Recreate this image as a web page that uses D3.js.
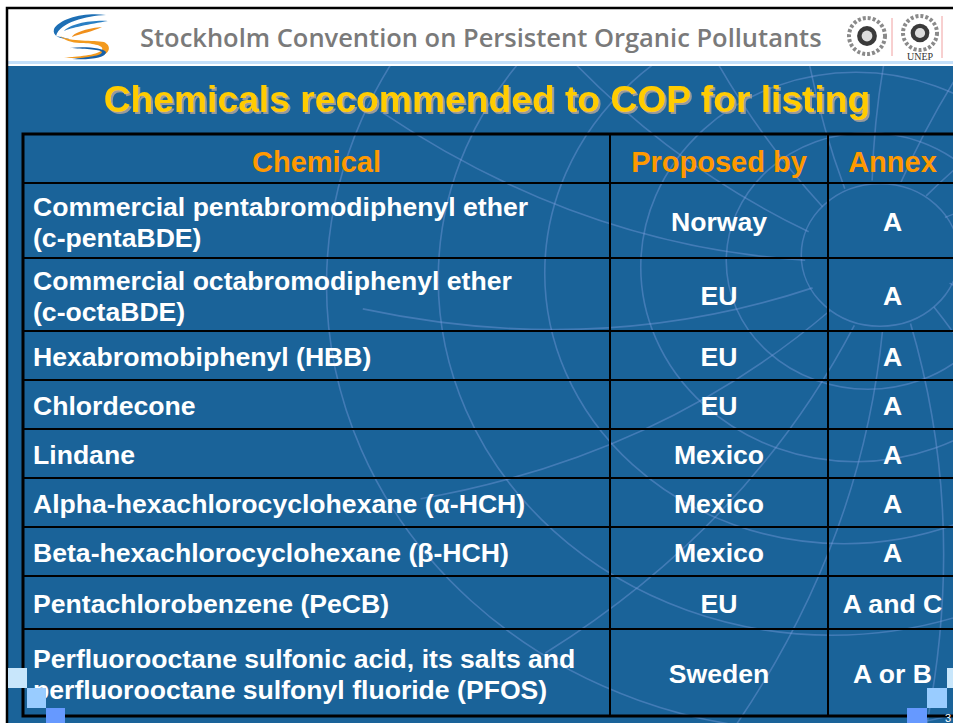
<!DOCTYPE html>
<html>
<head>
<meta charset="utf-8">
<script src="https://cdn.jsdelivr.net/npm/d3@7"></script>
<style>
  html, body { margin: 0; padding: 0; background: #fff; }
  svg { display: block; }
</style>
</head>
<body>
<svg id="slide" width="953" height="723"></svg>
<script>
// table content
const headers = ['Chemical', 'Proposed by', 'Annex'];
const chemicals = [
  ['Commercial pentabromodiphenyl ether', '(c-pentaBDE)'],
  ['Commercial octabromodiphenyl ether', '(c-octaBDE)'],
  ['Hexabromobiphenyl (HBB)'],
  ['Chlordecone'],
  ['Lindane'],
  ['Alpha-hexachlorocyclohexane (α-HCH)'],
  ['Beta-hexachlorocyclohexane (β-HCH)'],
  ['Pentachlorobenzene (PeCB)'],
  ['Perfluorooctane sulfonic acid, its salts and', 'perfluorooctane sulfonyl fluoride (PFOS)']
];
const proposedBy = ['Norway', 'EU', 'EU', 'EU', 'Mexico', 'Mexico', 'Mexico', 'EU', 'Sweden'];
const annex = ['A', 'A', 'A', 'A', 'A', 'A', 'A', 'A and C', 'A or B'];

const slideTitle = 'Chemicals recommended to COP for listing';
const bannerText = 'Stockholm Convention on Persistent Organic Pollutants';

// layout
const W = 953, H = 723;
const blue = '#1a6399';
const colEdges = [23, 610, 828, 957];
const rowEdges = [134, 183, 258, 331, 380, 429, 478, 527, 576, 629, 716];

const svg = d3.select('#slide');

// white banner + blue body
svg.append('rect').attr('x', 0).attr('y', 0).attr('width', W).attr('height', H).attr('fill', '#fff');
svg.append('rect').attr('x', 7).attr('y', 61).attr('width', W).attr('height', 3).attr('fill', '#c4e0fa');
svg.append('rect').attr('x', 7).attr('y', 66).attr('width', W).attr('height', H).attr('fill', blue);

// decorative globe lines
const defs = svg.append('defs');
defs.append('clipPath').attr('id', 'bodyClip')
  .append('rect').attr('x', 8).attr('y', 66).attr('width', W).attr('height', H);
const shadow = defs.append('filter').attr('id', 'shadow').attr('x', '-5%').attr('y', '-20%')
  .attr('width', '110%').attr('height', '150%');
shadow.append('feOffset').attr('in', 'SourceAlpha').attr('dx', 2).attr('dy', 2).attr('result', 'off');
shadow.append('feFlood').attr('flood-color', '#9a9a9a');
shadow.append('feComposite').attr('in2', 'off').attr('operator', 'in').attr('result', 'sh');
const merge = shadow.append('feMerge');
merge.append('feMergeNode').attr('in', 'sh');
merge.append('feMergeNode').attr('in', 'SourceGraphic');

const deco = svg.append('g').attr('clip-path', 'url(#bodyClip)')
  .attr('fill', 'none').attr('stroke', '#7f9fe0').attr('stroke-opacity', 0.4).attr('stroke-width', 1.6);
const cx = 880, cy = 255;
[75, 135, 205, 285, 375, 470].forEach((r, i) => {
  deco.append('ellipse').attr('cx', cx - i * 12).attr('cy', cy + i * 6)
    .attr('rx', r * 1.05).attr('ry', r * 0.95);
});
d3.range(0, 360, 22).forEach(a => {
  const rad = a * Math.PI / 180;
  const x1 = cx + 75 * Math.cos(rad), y1 = cy + 75 * Math.sin(rad);
  const x2 = cx + 520 * Math.cos(rad + 0.35), y2 = cy + 520 * Math.sin(rad + 0.35);
  const mx = cx + 300 * Math.cos(rad + 0.1), my = cy + 300 * Math.sin(rad + 0.1);
  deco.append('path').attr('d', `M${x1},${y1} Q${mx},${my} ${x2},${y2}`);
});

// outer slide frame
svg.append('path').attr('d', `M7,${H} V8 H${W}`).attr('fill', 'none').attr('stroke', '#000').attr('stroke-width', 2.5);

// Stockholm logo
const logo = svg.append('g').attr('transform', 'translate(50,12)');
logo.append('path').attr('d', 'M56,3 C36,0 10,6 4,17 C2,24 10,27 20,27 L6,24 C10,10 36,4 56,3 Z').attr('fill', '#1d6fb5');
logo.append('path').attr('d', 'M58,9 C40,8 20,12 14,19 C20,16 40,12 58,9 Z').attr('fill', '#2a7fc4');
logo.append('path').attr('d', 'M52,15 C40,16 24,20 22,25 C30,22 44,19 52,15 Z').attr('fill', '#f0901c');
logo.append('path').attr('d', 'M10,24 C20,30 44,28 54,30 C62,34 60,42 50,44 C40,47 26,46 14,46 C28,44 46,44 52,38 C55,33 40,31 30,31 C22,31 14,28 10,24 Z').attr('fill', '#f39a1e');
logo.append('path').attr('d', 'M20,36 C34,34 54,36 56,40 C56,46 40,48 22,47 C38,45 52,44 52,40 C50,37 32,37 20,36 Z').attr('fill', '#1760a8');

// UN emblems
[[867, 36, 18], [920, 33, 17]].forEach(([x, y, r]) => {
  svg.append('circle').attr('cx', x).attr('cy', y).attr('r', r).attr('fill', 'none')
    .attr('stroke', '#8a8a8a').attr('stroke-width', 4).attr('stroke-dasharray', '3 2');
  svg.append('circle').attr('cx', x).attr('cy', y).attr('r', r * 0.55).attr('fill', '#3a3a3a');
  svg.append('circle').attr('cx', x).attr('cy', y).attr('r', r * 0.3).attr('fill', '#ddd');
});
svg.append('text').attr('x', 920).attr('y', 60).attr('text-anchor', 'middle')
  .attr('font-family', 'Liberation Serif').attr('font-size', 10).attr('fill', '#333').text('UNEP');
svg.append('line').attr('x1', 892).attr('x2', 892).attr('y1', 18).attr('y2', 56).attr('stroke', '#f0a0a0');
svg.append('line').attr('x1', 942).attr('x2', 942).attr('y1', 16).attr('y2', 58).attr('stroke', '#f0a0a0');

// fit helper
function fitWidth(sel, target) {
  const w = sel.node().getComputedTextLength();
  const fs = parseFloat(sel.attr('font-size'));
  sel.attr('font-size', fs * target / w);
}

const banner = svg.append('text').attr('x', 140).attr('y', 47)
  .attr('font-family', 'Open Sans').attr('font-weight', 600).attr('font-size', 24)
  .attr('fill', '#7a7a7a').text(bannerText);
fitWidth(banner, 682);

// title with drop shadow
const title = svg.append('text').attr('x', 487).attr('y', 112).attr('text-anchor', 'middle')
  .attr('font-family', 'Liberation Sans').attr('font-weight', 'bold').attr('font-size', 37)
  .attr('fill', '#ffcc00').attr('filter', 'url(#shadow)').text(slideTitle);
fitWidth(title, 767);

// table
const table = svg.append('g');
const nRows = chemicals.length;
const colX = i => colEdges[i];
const colMid = i => (colEdges[i] + colEdges[i + 1]) / 2;
const rowMid = i => (rowEdges[i] + rowEdges[i + 1]) / 2;

table.selectAll('text.head').data(headers).join('text').attr('class', 'head')
  .attr('x', (d, i) => colMid(i)).attr('y', rowMid(0) + 3).attr('dy', '0.36em')
  .attr('text-anchor', 'middle')
  .attr('font-family', 'Liberation Sans').attr('font-weight', 'bold').attr('font-size', 29)
  .attr('fill', '#ff9900').text(d => d);

const body = table.append('g').attr('font-family', 'Liberation Sans').attr('font-weight', 'bold')
  .attr('font-size', 26.6).attr('fill', '#fff');
const lineGap = 31;

body.selectAll('text.chem').data(chemicals).join('text').attr('class', 'chem')
  .attr('x', colX(0) + 10)
  .attr('y', (d, i) => rowMid(i + 1))
  .each(function (d, i) {
    const el = d3.select(this);
    d.forEach((line, k) => {
      el.append('tspan').attr('x', colX(0) + 10)
        .attr('y', rowMid(i + 1) + 1 + (k - (d.length - 1) / 2) * lineGap)
        .attr('dy', '0.36em').text(line);
    });
  });

body.selectAll('text.prop').data(proposedBy).join('text').attr('class', 'prop')
  .attr('x', colMid(1)).attr('y', (d, i) => rowMid(i + 1) + 1).attr('dy', '0.36em')
  .attr('text-anchor', 'middle').text(d => d);

body.selectAll('text.annex').data(annex).join('text').attr('class', 'annex')
  .attr('x', colMid(2)).attr('y', (d, i) => rowMid(i + 1) + 1).attr('dy', '0.36em')
  .attr('text-anchor', 'middle').text(d => d);

// grid lines
const grid = table.append('g').attr('stroke', '#000');
rowEdges.slice(1, -1).forEach(y => {
  grid.append('line').attr('x1', colEdges[0]).attr('x2', W).attr('y1', y).attr('y2', y).attr('stroke-width', 2);
});
colEdges.slice(1, -1).forEach(x => {
  grid.append('line').attr('x1', x).attr('x2', x).attr('y1', rowEdges[0]).attr('y2', rowEdges[nRows + 1]).attr('stroke-width', 2);
});
grid.append('rect').attr('x', colEdges[0]).attr('y', rowEdges[0])
  .attr('width', colEdges[3] - colEdges[0]).attr('height', rowEdges[nRows + 1] - rowEdges[0])
  .attr('fill', 'none').attr('stroke-width', 3);

// corner squares
const sq = [['#c8e6fb', 0, 668], ['#99ccff', 1, 688], ['#6699ff', 2, 708]];
sq.forEach(([c, i, y]) => {
  svg.append('rect').attr('x', 8 + i * 19).attr('y', y).attr('width', 19).attr('height', 20).attr('fill', c);
  svg.append('rect').attr('x', 947 - i * 20).attr('y', y).attr('width', 20).attr('height', 20).attr('fill', c);
});
svg.append('text').attr('x', 945).attr('y', 722).attr('font-family', 'Liberation Sans')
  .attr('font-size', 11).attr('fill', '#fff').text('3');
</script>
</body>
</html>
